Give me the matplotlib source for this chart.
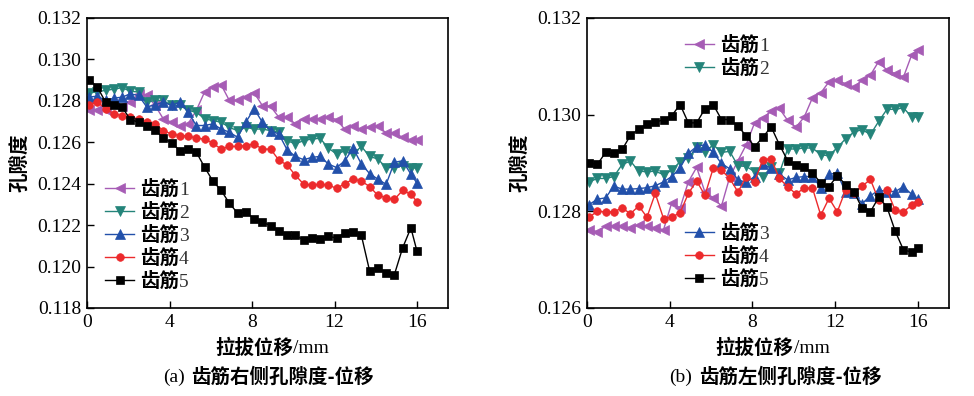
import matplotlib.pyplot as plt
from matplotlib.font_manager import FontProperties

# displacement (mm)
disp = [0.1, 0.5, 0.9, 1.3, 1.7, 2.1, 2.5, 2.9, 3.3, 3.7, 4.1, 4.5, 4.9, 5.3,
        5.7, 6.1, 6.5, 6.9, 7.3, 7.7, 8.1, 8.5, 8.9, 9.3, 9.7, 10.1, 10.5,
        10.9, 11.3, 11.7, 12.1, 12.5, 12.9, 13.3, 13.7, 14.1, 14.5, 14.9,
        15.3, 15.7, 16.0]

labels = ['齿筋1', '齿筋2', '齿筋3', '齿筋4', '齿筋5']

# (a) right side porosity
right_1 = [0.12758, 0.12758, 0.12758, 0.12786, 0.12775, 0.12794, 0.12835, 0.12826, 0.12778, 0.12713,
           0.12697, 0.12677, 0.12689, 0.12754, 0.12843, 0.12867, 0.12878, 0.12802, 0.12802, 0.12818,
           0.12840, 0.12777, 0.12773, 0.12721, 0.12721, 0.12689, 0.12713, 0.12713, 0.12713, 0.12721,
           0.12710, 0.12662, 0.12678, 0.12662, 0.12673, 0.12678, 0.12645, 0.12645, 0.12624, 0.12611,
           0.12611]
right_2 = [0.12839, 0.12843, 0.12851, 0.12856, 0.12864, 0.12846, 0.12843, 0.12794, 0.12802, 0.12802,
           0.12778, 0.12778, 0.12754, 0.12745, 0.12713, 0.12705, 0.12697, 0.12672, 0.12656, 0.12672,
           0.12664, 0.12664, 0.12656, 0.12649, 0.12608, 0.12592, 0.12608, 0.12616, 0.12619, 0.12572,
           0.12543, 0.12559, 0.12543, 0.12580, 0.12532, 0.12519, 0.12478, 0.12478, 0.12487, 0.12478,
           0.12475]
right_3 = [0.12818, 0.12823, 0.12802, 0.12813, 0.12818, 0.12834, 0.12826, 0.12770, 0.12781, 0.12794,
           0.12778, 0.12794, 0.12745, 0.12681, 0.12681, 0.12689, 0.12664, 0.12649, 0.12624, 0.12697,
           0.12762, 0.12697, 0.12656, 0.12640, 0.12564, 0.12532, 0.12516, 0.12527, 0.12532, 0.12495,
           0.12478, 0.12511, 0.12572, 0.12495, 0.12449, 0.12422, 0.12397, 0.12503, 0.12511, 0.12446,
           0.12402]
right_4 = [0.12781, 0.12794, 0.12762, 0.12737, 0.12729, 0.12721, 0.12713, 0.12697, 0.12689, 0.12656,
           0.12640, 0.12632, 0.12632, 0.12619, 0.12616, 0.12596, 0.12567, 0.12580, 0.12580, 0.12584,
           0.12592, 0.12567, 0.12567, 0.12514, 0.12490, 0.12441, 0.12398, 0.12393, 0.12398, 0.12393,
           0.12378, 0.12400, 0.12422, 0.12413, 0.12386, 0.12344, 0.12332, 0.12324, 0.12368, 0.12349,
           0.12313]
right_5 = [0.12903, 0.12867, 0.12794, 0.12780, 0.12770, 0.12710, 0.12697, 0.12680, 0.12660, 0.12620,
           0.12597, 0.12560, 0.12568, 0.12552, 0.12480, 0.12413, 0.12368, 0.12306, 0.12258, 0.12263,
           0.12230, 0.12214, 0.12198, 0.12172, 0.12151, 0.12151, 0.12128, 0.12138, 0.12133, 0.12146,
           0.12138, 0.12164, 0.12167, 0.12151, 0.11979, 0.11995, 0.11968, 0.11961, 0.12090, 0.12187,
           0.12073]

# (b) left side porosity
left_1 = [0.12762, 0.12758, 0.12769, 0.12769, 0.12769, 0.12766, 0.12772, 0.12769, 0.12766, 0.12762,
          0.12818, 0.12807, 0.12861, 0.12891, 0.12840, 0.12828, 0.12811, 0.12871, 0.12905, 0.12938,
          0.12983, 0.12993, 0.13007, 0.13013, 0.12988, 0.12974, 0.12995, 0.13035, 0.13045, 0.13068,
          0.13071, 0.13064, 0.13057, 0.13071, 0.13082, 0.13110, 0.13092, 0.13085, 0.13078, 0.13124,
          0.13134]
left_2 = [0.12861, 0.12868, 0.12868, 0.12872, 0.12897, 0.12904, 0.12883, 0.12882, 0.12883, 0.12876,
          0.12885, 0.12903, 0.12910, 0.12933, 0.12922, 0.12938, 0.12922, 0.12924, 0.12894, 0.12893,
          0.12882, 0.12872, 0.12891, 0.12879, 0.12929, 0.12929, 0.12931, 0.12931, 0.12917, 0.12915,
          0.12932, 0.12950, 0.12964, 0.12969, 0.12959, 0.12986, 0.13011, 0.13011, 0.13014, 0.12995,
          0.12995]
left_3 = [0.12814, 0.12825, 0.12828, 0.12852, 0.12846, 0.12846, 0.12847, 0.12849, 0.12853, 0.12861,
          0.12872, 0.12890, 0.12920, 0.12934, 0.12938, 0.12922, 0.12899, 0.12888, 0.12865, 0.12860,
          0.12872, 0.12898, 0.12889, 0.12877, 0.12865, 0.12870, 0.12872, 0.12872, 0.12849, 0.12877,
          0.12879, 0.12839, 0.12837, 0.12816, 0.12832, 0.12844, 0.12841, 0.12841, 0.12851, 0.12835,
          0.12825]
left_4 = [0.12788, 0.12800, 0.12799, 0.12799, 0.12807, 0.12795, 0.12811, 0.12788, 0.12837, 0.12785,
          0.12788, 0.12797, 0.12837, 0.12863, 0.12833, 0.12889, 0.12885, 0.12868, 0.12840, 0.12872,
          0.12861, 0.12907, 0.12909, 0.12868, 0.12851, 0.12836, 0.12848, 0.12848, 0.12792, 0.12827,
          0.12799, 0.12844, 0.12837, 0.12852, 0.12866, 0.12823, 0.12844, 0.12802, 0.12799, 0.12813,
          0.12820]
left_5 = [0.12901, 0.12897, 0.12922, 0.12920, 0.12928, 0.12957, 0.12970, 0.12981, 0.12984, 0.12990,
          0.12998, 0.13021, 0.12983, 0.12983, 0.13012, 0.13021, 0.12990, 0.12990, 0.12976, 0.12956,
          0.12934, 0.12953, 0.12975, 0.12938, 0.12905, 0.12896, 0.12891, 0.12879, 0.12859, 0.12851,
          0.12874, 0.12855, 0.12841, 0.12806, 0.12799, 0.12829, 0.12809, 0.12759, 0.12720, 0.12716,
          0.12725]

colors = ['#a65cb5', '#24847a', '#2250aa', '#ec2a2c', '#000000']
markers = ['<', 'v', '^', 'o', 's']

serif = 'Liberation Serif'
cjk = 'Noto Sans CJK SC'
legend_font = FontProperties(family=cjk, size=14, weight='bold')
plt.rcParams['font.family'] = [serif, cjk]

fig = plt.figure(figsize=(9.74, 3.96), dpi=100)
ax_a = fig.add_axes([87 / 974, 88 / 396, 361 / 974, 290 / 396])
ax_b = fig.add_axes([587 / 974, 88 / 396, 362 / 974, 290 / 396])


def draw(ax, series, ylim, yticks):
    lines = []
    for vals, c, m, lab in zip(series, colors, markers, labels):
        ms = 5.5 if m in ('s', 'o') else 6.5
        ln, = ax.plot(disp, vals, color=c, marker=m, markersize=ms, lw=1,
                      markeredgewidth=0.5, label=lab)
        lines.append(ln)
    ax.set_xlim(0, 17.5)
    ax.set_ylim(*ylim)
    ax.set_xticks([0, 4, 8, 12, 16])
    ax.set_yticks(yticks)
    ax.set_yticklabels(['%.3f' % t for t in yticks])
    ax.tick_params(direction='in', length=5, width=1, labelsize=14, pad=4)
    for sp in ax.spines.values():
        sp.set_linewidth(1.2)
    ax.set_ylabel('孔隙度', family=cjk, weight='bold', fontsize=14, labelpad=6)
    # x label: bold Chinese + regular unit
    ax.text(0.571, -0.138, '拉拔位移', transform=ax.transAxes, ha='right',
            va='center', family=cjk, weight='bold', fontsize=14)
    ax.text(0.571, -0.138, '/mm', transform=ax.transAxes, ha='left',
            va='center', family=serif, fontsize=14)
    return lines


def add_legend(ax, handles, labs, **kw):
    # Chinese part bold, trailing number in regular serif
    leg = ax.legend(handles, [s[:-1] for s in labs], frameon=False, prop=legend_font,
                    handlelength=1.5, handletextpad=0.3, labelspacing=0.2,
                    borderpad=0, borderaxespad=0, **kw)
    for txt, s in zip(leg.get_texts(), labs):
        ax.annotate(s[-1], xy=(1, 0.42), xycoords=txt, ha='left', va='center',
                    family=serif, fontsize=14, color='#333333', zorder=10)
    return leg


lines_a = draw(ax_a, [right_1, right_2, right_3, right_4, right_5],
               (0.118, 0.132), [0.118, 0.120, 0.122, 0.124, 0.126, 0.128, 0.130, 0.132])
lines_b = draw(ax_b, [left_1, left_2, left_3, left_4, left_5],
               (0.126, 0.132), [0.126, 0.128, 0.130, 0.132])

add_legend(ax_a, lines_a, labels, loc='lower left', bbox_to_anchor=(0.05, 0.06))
leg1 = add_legend(ax_b, lines_b[:2], labels[:2], loc='upper left',
                  bbox_to_anchor=(0.27, 0.94))
ax_b.add_artist(leg1)
add_legend(ax_b, lines_b[2:], labels[2:], loc='lower left', bbox_to_anchor=(0.27, 0.067))

# captions
fig.text(185 / 974, 1 - 377 / 396, '(a)', ha='right', va='center', family=serif, fontsize=14)
fig.text(191 / 974, 1 - 377 / 396, '齿筋右侧孔隙度-位移', ha='left', va='center',
         family=cjk, weight='bold', fontsize=14)
fig.text(692 / 974, 1 - 377 / 396, '(b)', ha='right', va='center', family=serif, fontsize=14)
fig.text(699 / 974, 1 - 377 / 396, '齿筋左侧孔隙度-位移', ha='left', va='center',
         family=cjk, weight='bold', fontsize=14)

fig.savefig('out.png', dpi=100)
